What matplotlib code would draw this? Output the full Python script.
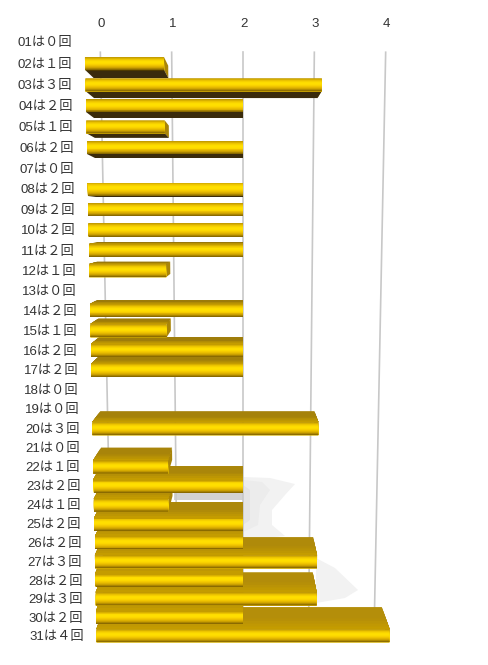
import matplotlib
matplotlib.use('Agg')
import matplotlib.pyplot as plt
import numpy as np
from matplotlib.colors import LinearSegmentedColormap, to_rgb

days = ['%02d' % d for d in range(1, 32)]
counts = [0, 1, 3, 2, 1, 2, 0, 2, 2, 2, 2, 1, 0, 2, 1, 2, 2, 0, 0, 3,
          0, 1, 2, 1, 2, 2, 3, 2, 3, 2, 4]
ticks = [0, 1, 2, 3, 4]

# faint shadows behind the bars, pixel outlines
shadow_a = [(243, 477), (270, 478), (295, 484), (285, 495), (272, 510), (272, 525), (285, 536), (243, 540)]
shadow_b = [(243, 480), (262, 482), (270, 490), (260, 505), (258, 525), (243, 532)]
shadow_c = [(243, 485), (250, 490), (250, 520), (243, 525)]
shadow_d = [(316, 558), (335, 568), (358, 590), (345, 598), (316, 603)]
shadow_e = [(174, 493), (243, 493), (243, 500), (174, 500)]

plt.rcParams['font.family'] = ['Liberation Sans', 'Noto Sans CJK JP', 'DejaVu Sans']

fig = plt.figure(figsize=(4.89, 6.65), dpi=100)
ax = fig.add_axes([0, 0, 1, 1])
ax.set_xlim(0, 489)
ax.set_ylim(665, 0)
ax.axis('off')

DEPTH = 0.0537
GRID_DEPTH = 0.10
VX, VY = 243.0, 219.0
BAR_H = 13.0

def row_y(r):
    # bottom edge of a bar's front, rows get closer together going down
    return (21.56 * r + 27.27) / (0.00269 * r + 1)

def front_x(v, y):
    return VX + (v - 2) * (79 - 0.01 * (y - 60))

def proj(v, y, d):
    x = front_x(v, y)
    return x + (VX - x) * d, y + (VY - y) * d

def mix(a, b, t):
    return tuple((1 - t) * p + t * q for p, q in zip(to_rgb(a), to_rgb(b)))

gold = LinearSegmentedColormap.from_list('gold', ['#c49c00', '#f0c800', '#ffe000', '#ffdc00', '#f0c400', '#d0a400', '#8a6a00'])

for pts, col in [(shadow_a, '#f2f2f2'), (shadow_d, '#f2f2f2'), (shadow_b, '#ececec'),
                 (shadow_c, '#e4e4e4'), (shadow_e, '#d2d2d2')]:
    ax.fill(*zip(*pts), color=col, lw=0, zorder=1)

for v in ticks:
    rr = np.linspace(0.3, 31.6, 30)
    p = [proj(v, row_y(r), GRID_DEPTH) for r in rr]
    ax.plot([a[0] for a in p], [a[1] for a in p], color='#c8c8c8', lw=1.2, zorder=2)
    ax.text(proj(v, 33, GRID_DEPTH)[0] + 1, 24, str(v), ha='center', va='center',
            fontsize=9.5, color='#333333', zorder=5)

# nearest row is the one highest up, so paint from the bottom row upward
z = 3
for i in range(len(days) - 1, -1, -1):
    day, c = days[i], counts[i]
    r = i + 1
    yb = row_y(r)
    yt = yb - BAR_H
    lab_y = yb - 5.2
    full = '０１２３４'[c]
    ax.text(17 + 0.0202 * (lab_y - 41), lab_y, day + 'は' + full + '回', ha='left', va='center',
            fontsize=9.5, color='#333333', zorder=200)
    if c == 0:
        continue
    # right end cap
    cap = [proj(c, yt, 0), proj(c, yb, 0), proj(c, yb, DEPTH), proj(c, yt, DEPTH)]
    ax.fill(*zip(*cap), color='#a98508', lw=0, zorder=z)
    # the side of the bar we can see: underside above the eye line, top below it
    if yb < VY:
        side = [proj(0, yb, 0), proj(c, yb, 0), proj(c, yb, DEPTH), proj(0, yb, DEPTH)]
        ax.fill(*zip(*side), color='#3a2b0c', lw=0, zorder=z)
    if yt > VY:
        # top face is lighter further down, and fades into the front near its edge
        base = mix('#96760a', '#b48e0a', min(1, (yt - VY) / 400))
        m = 8
        for k in range(m):
            d0 = DEPTH * (1 - k / m)
            q = [proj(0, yt, d0), proj(c, yt, d0), proj(c, yt, 0), proj(0, yt, 0)]
            t = max(0, (k + 1) / m - 0.55) / 0.45
            ax.fill(*zip(*q), color=mix(base, '#c49c00', t), lw=0, zorder=z)
    # rounded looking front, each strip painted over the one before it
    n = 14
    for k in range(n):
        y0 = yt + BAR_H * k / n
        q = [proj(0, y0, 0), proj(c, y0, 0), proj(c, yb, 0), proj(0, yb, 0)]
        ax.fill(*zip(*q), color=gold(k / (n - 1)), lw=0, zorder=z + 1)
    z += 2

fig.savefig('out.png', dpi=100)
